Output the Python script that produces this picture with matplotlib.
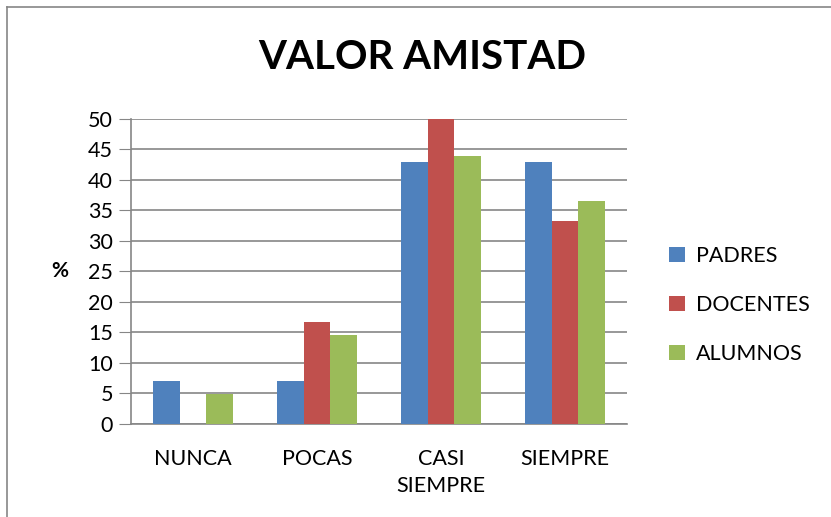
import numpy as np
import matplotlib.pyplot as plt
from matplotlib.lines import Line2D

categories = ['NUNCA', 'POCAS', 'CASI\nSIEMPRE', 'SIEMPRE']
series = ['PADRES', 'DOCENTES', 'ALUMNOS']
padres = [7.1, 7.1, 42.9, 42.9]
docentes = [0, 16.7, 50, 33.3]
alumnos = [4.9, 14.6, 43.9, 36.6]
colors = ['#4F81BD', '#C0504D', '#9BBB59']

plt.rcParams['font.family'] = ['Lato', 'DejaVu Sans']

fig = plt.figure(figsize=(8.31, 5.17), dpi=100)
ax = fig.add_axes([0.1576, 0.180, 0.597, 0.590])

x = np.arange(len(categories))
w = 0.215
for i, (vals, name) in enumerate(zip([padres, docentes, alumnos], series)):
    ax.bar(x + (i - 1) * w, vals, w, color=colors[i], label=name, zorder=3)

ax.set_xlim(-0.5, 3.5)
ax.set_ylim(0, 50)
ax.set_yticks(range(0, 51, 5))
ax.set_xticks(x)
ax.set_xticklabels(categories, fontsize=15.5, linespacing=1.45)
ax.tick_params(axis='x', length=0, pad=18)
ax.tick_params(axis='y', length=9, color='#868686', labelsize=15.5, pad=4)
ax.grid(axis='y', color='#868686', linewidth=1.2, zorder=0)
for s in ['top', 'right']:
    ax.spines[s].set_visible(False)
for s in ['left', 'bottom']:
    ax.spines[s].set_color('#868686')
    ax.spines[s].set_linewidth(1.2)
ax.set_ylabel('%', rotation=0, fontsize=15, fontweight='bold', labelpad=20, va='center')

fig.text(0.508, 0.888, 'VALOR AMISTAD', ha='center', va='center',
         fontsize=29, fontweight='bold')

ax.legend(loc='center left', bbox_to_anchor=(1.045, 0.39), frameon=False,
          fontsize=15.5, handlelength=0.75, handleheight=0.75, handletextpad=0.5,
          labelspacing=1.35)

# outer frame (top and left visible)
fig.add_artist(Line2D([0.009, 1.0], [0.986, 0.986], color='#868686', lw=1.2,
                      transform=fig.transFigure))
fig.add_artist(Line2D([0.009, 0.009], [0.0, 0.986], color='#868686', lw=1.2,
                      transform=fig.transFigure))

fig.savefig('out.png', dpi=100)
